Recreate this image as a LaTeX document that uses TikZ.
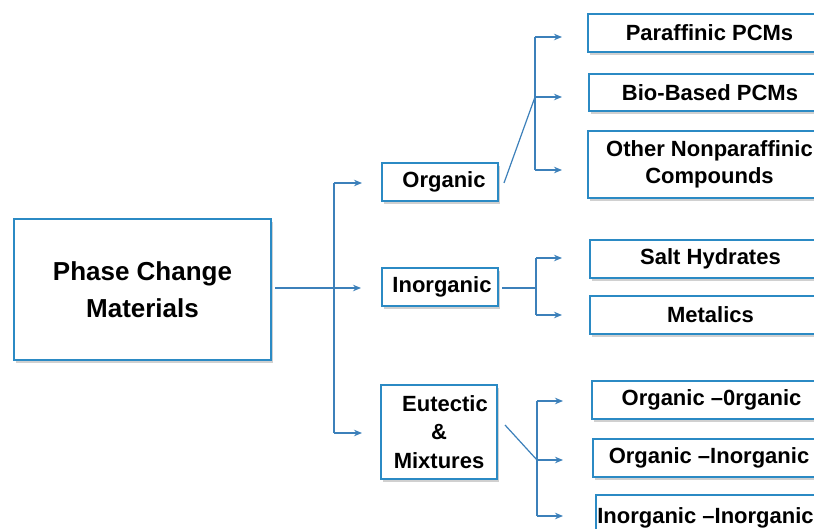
\documentclass[tikz,border=0pt]{standalone}
\usepackage{fontspec}
\setmainfont{Liberation Sans}
\usetikzlibrary{arrows.meta,shadows}
\definecolor{boxblue}{HTML}{2B8AC4}
\definecolor{lineblue}{HTML}{3C80BA}
\tikzset{
 box/.style={draw=boxblue, line width=2pt, fill=white, anchor=north west, align=center, inner sep=0pt,
   font=\bfseries\fontsize{22}{27}\selectfont,
   drop shadow={shadow xshift=2pt, shadow yshift=-3pt, fill=black!30, opacity=0.6}},
 conn/.style={draw=lineblue, line width=1.2pt},
 arr/.style={conn, -{Stealth[length=8pt,width=6.5pt]}}
}
\begin{document}
\begin{tikzpicture}[x=1pt,y=-1pt]
\clip (0,0) rectangle (814,529);
\fill[white] (0,0) rectangle (814,529);
% boxes
\node[box, minimum width=257pt, minimum height=141pt, font=\bfseries\fontsize{26}{37}\selectfont] (pcm) at (13,218) {Phase Change\\Materials};
\node[box, minimum width=116pt, minimum height=38pt] (org) at (381,162) {\hspace{8pt}Organic};
\node[box, minimum width=116pt, minimum height=38pt] (inorg) at (381,267) {\hspace{4pt}Inorganic};
\node[box, minimum width=116pt, minimum height=94pt, font=\bfseries\fontsize{22}{28.5}\selectfont] (eut) at (380,384) {\hspace{12pt}Eutectic\\\&\\Mixtures};
\node[box, minimum width=243pt, minimum height=38pt] (par) at (587,13) {Paraffinic PCMs};
\node[box, minimum width=242pt, minimum height=37pt] (bio) at (588,73) {Bio-Based PCMs};
\node[box, minimum width=243pt, minimum height=67pt] (oth) at (587,130) {Other Nonparaffinic\\Compounds};
\node[box, minimum width=241pt, minimum height=38pt] (salt) at (589,239) {Salt Hydrates};
\node[box, minimum width=241pt, minimum height=38pt] (met) at (589,295) {Metalics};
\node[box, minimum width=239pt, minimum height=38pt] (oo) at (591,380) {Organic --0rganic};
\node[box, minimum width=238pt, minimum height=38pt] (oi) at (592,438) {\hspace{-6pt}Organic --Inorganic};
\node[box, minimum width=235pt, minimum height=45pt] (ii) at (595,494) {\hspace{-16pt}Inorganic --Inorganic};
% level 1 connectors
\coordinate (t1) at (334,183);
\coordinate (t2) at (334,433);
\coordinate (t0) at (275,288);
\draw[conn] (t1) -- (t2);
\draw[arr] (t0) -- (t0 -| 361,0);
\draw[arr, shorten >=19pt] (t1) -- (t1 -| org.west);
\draw[arr, shorten >=18pt] (t2) -- (t2 -| eut.west);
% organic branch
\coordinate (os) at (504,183);
\coordinate (om) at (535,97);
\coordinate (o1) at (535,37);
\coordinate (o3) at (535,170);
\draw[conn] (os) -- (om);
\draw[conn] (o1) -- (o3);
\draw[arr, shorten >=25pt] (o1) -- (o1 -| par.west);
\draw[arr, shorten >=26pt] (om) -- (om -| bio.west);
\draw[arr, shorten >=25pt] (o3) -- (o3 -| oth.west);
% inorganic branch
\coordinate (is) at (502,288);
\coordinate (im) at (536,288);
\coordinate (i1) at (536,258);
\coordinate (i2) at (536,315);
\draw[conn] (is) -- (im);
\draw[conn] (i1) -- (i2);
\draw[arr, shorten >=27pt] (i1) -- (i1 -| salt.west);
\draw[arr, shorten >=27pt] (i2) -- (i2 -| met.west);
% eutectic branch
\coordinate (es) at (505,425);
\coordinate (em) at (537,460);
\coordinate (e1) at (537,401);
\coordinate (e3) at (537,516);
\draw[conn] (es) -- (em);
\draw[conn] (e1) -- (e3);
\draw[arr, shorten >=28pt] (e1) -- (e1 -| oo.west);
\draw[arr, shorten >=29pt] (em) -- (em -| oi.west);
\draw[arr, shorten >=32pt] (e3) -- (e3 -| ii.west);
\end{tikzpicture}
\end{document}
